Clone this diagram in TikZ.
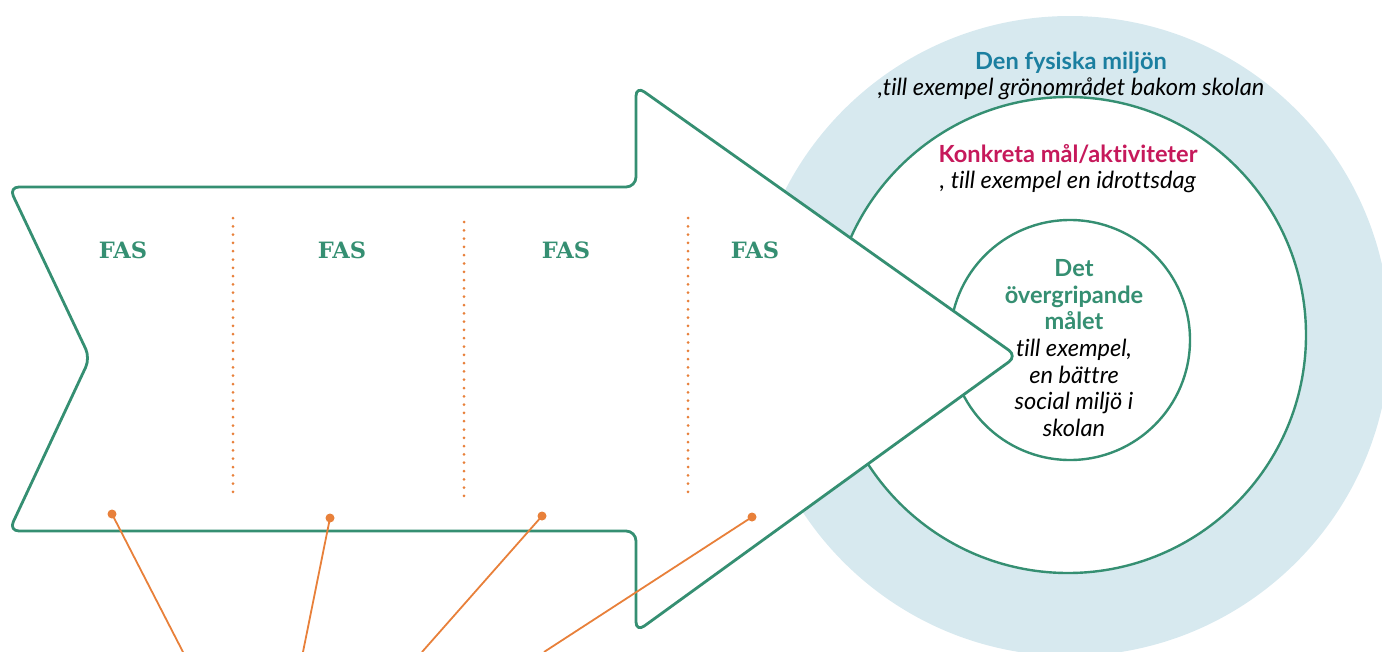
\documentclass[tikz,border=0pt]{standalone}
\usepackage{fontspec}
\setmainfont[Ligatures=NoCommon]{Lato}
\newfontfamily\fasfont{DejaVu Serif}
\definecolor{fasgreen}{HTML}{358F72}
\definecolor{envblue}{HTML}{D7E9EF}
\definecolor{headblue}{HTML}{1B7FA0}
\definecolor{goalred}{HTML}{C6195B}
\definecolor{linkorange}{HTML}{E8803A}
\tikzset{
  ring/.style={draw=fasgreen, line width=2.4pt, fill=white},
  fasline/.style={linkorange, line width=3pt, line cap=round, dash pattern=on 0pt off 8.3pt},
  faslabel/.style={font=\fasfont\bfseries\fontsize{22.5}{24}\selectfont, text=fasgreen},
  dot/.style={circle, fill=linkorange, inner sep=0pt, minimum size=9pt},
  link/.style={linkorange, line width=1.8pt}
}
\begin{document}
\begin{tikzpicture}[x=1pt,y=-1pt]
\useasboundingbox (0,0) rectangle (1382,651);
% circles behind the arrow
\fill[envblue] (1070,336) circle (320pt);
\draw[ring] (1068,335) circle (238pt);
\draw[ring] (1070,340) circle (120pt);
% the arrow
\draw[draw=fasgreen, line width=2.8pt, fill=white, rounded corners=10pt, line join=round]
  (9,187) -- (636,187) -- (636,86) -- (1017,356) -- (636,632) -- (636,531) -- (9,531) -- (90,358) -- cycle;
% phase borders
\draw[fasline] (233,218) -- (233,500);
\draw[fasline] (464,222) -- (464,502);
\draw[fasline] (688,218) -- (688,500);
\node[faslabel] (fas1) at (123,250) {FAS};
\node[faslabel] (fas2) at (342,250) {FAS};
\node[faslabel] (fas3) at (566,250) {FAS};
\node[faslabel] (fas4) at (755,250) {FAS};
% texts in the circles
\node[align=center, font=\fontsize{23.6}{26}\selectfont] (env) at (1071,76)
  {\textbf{\color{headblue}Den fysiska miljön}\\ \textit{,till exempel grönområdet bakom skolan}};
\node[align=center, font=\fontsize{23.6}{26}\selectfont] (aims) at (1068,169)
  {\textbf{\color{goalred}Konkreta mål/aktiviteter}\\ \textit{, till exempel en idrottsdag}};
\node[align=center, font=\fontsize{23.6}{26.7}\selectfont] (goal) at (1074,348)
  {\textbf{\color{fasgreen}Det}\\ \textbf{\color{fasgreen}övergripande}\\ \textbf{\color{fasgreen}målet}\\
   \textit{till exempel,}\\ \textit{en bättre}\\ \textit{social miljö i}\\ \textit{skolan}};
% links from the phases
\node[dot] (dot1) at (112,514) {};
\node[dot] (dot2) at (330,518) {};
\node[dot] (dot3) at (542,516) {};
\node[dot] (dot4) at (752,517) {};
\coordinate (end1) at (183,652);
\coordinate (end2) at (303,652);
\coordinate (end3) at (422,652);
\coordinate (end4) at (544,652);
\draw[link] (dot1.center) -- (end1);
\draw[link] (dot2.center) -- (end2);
\draw[link] (dot3.center) -- (end3);
\draw[link] (dot4.center) -- (end4);
\end{tikzpicture}
\end{document}
